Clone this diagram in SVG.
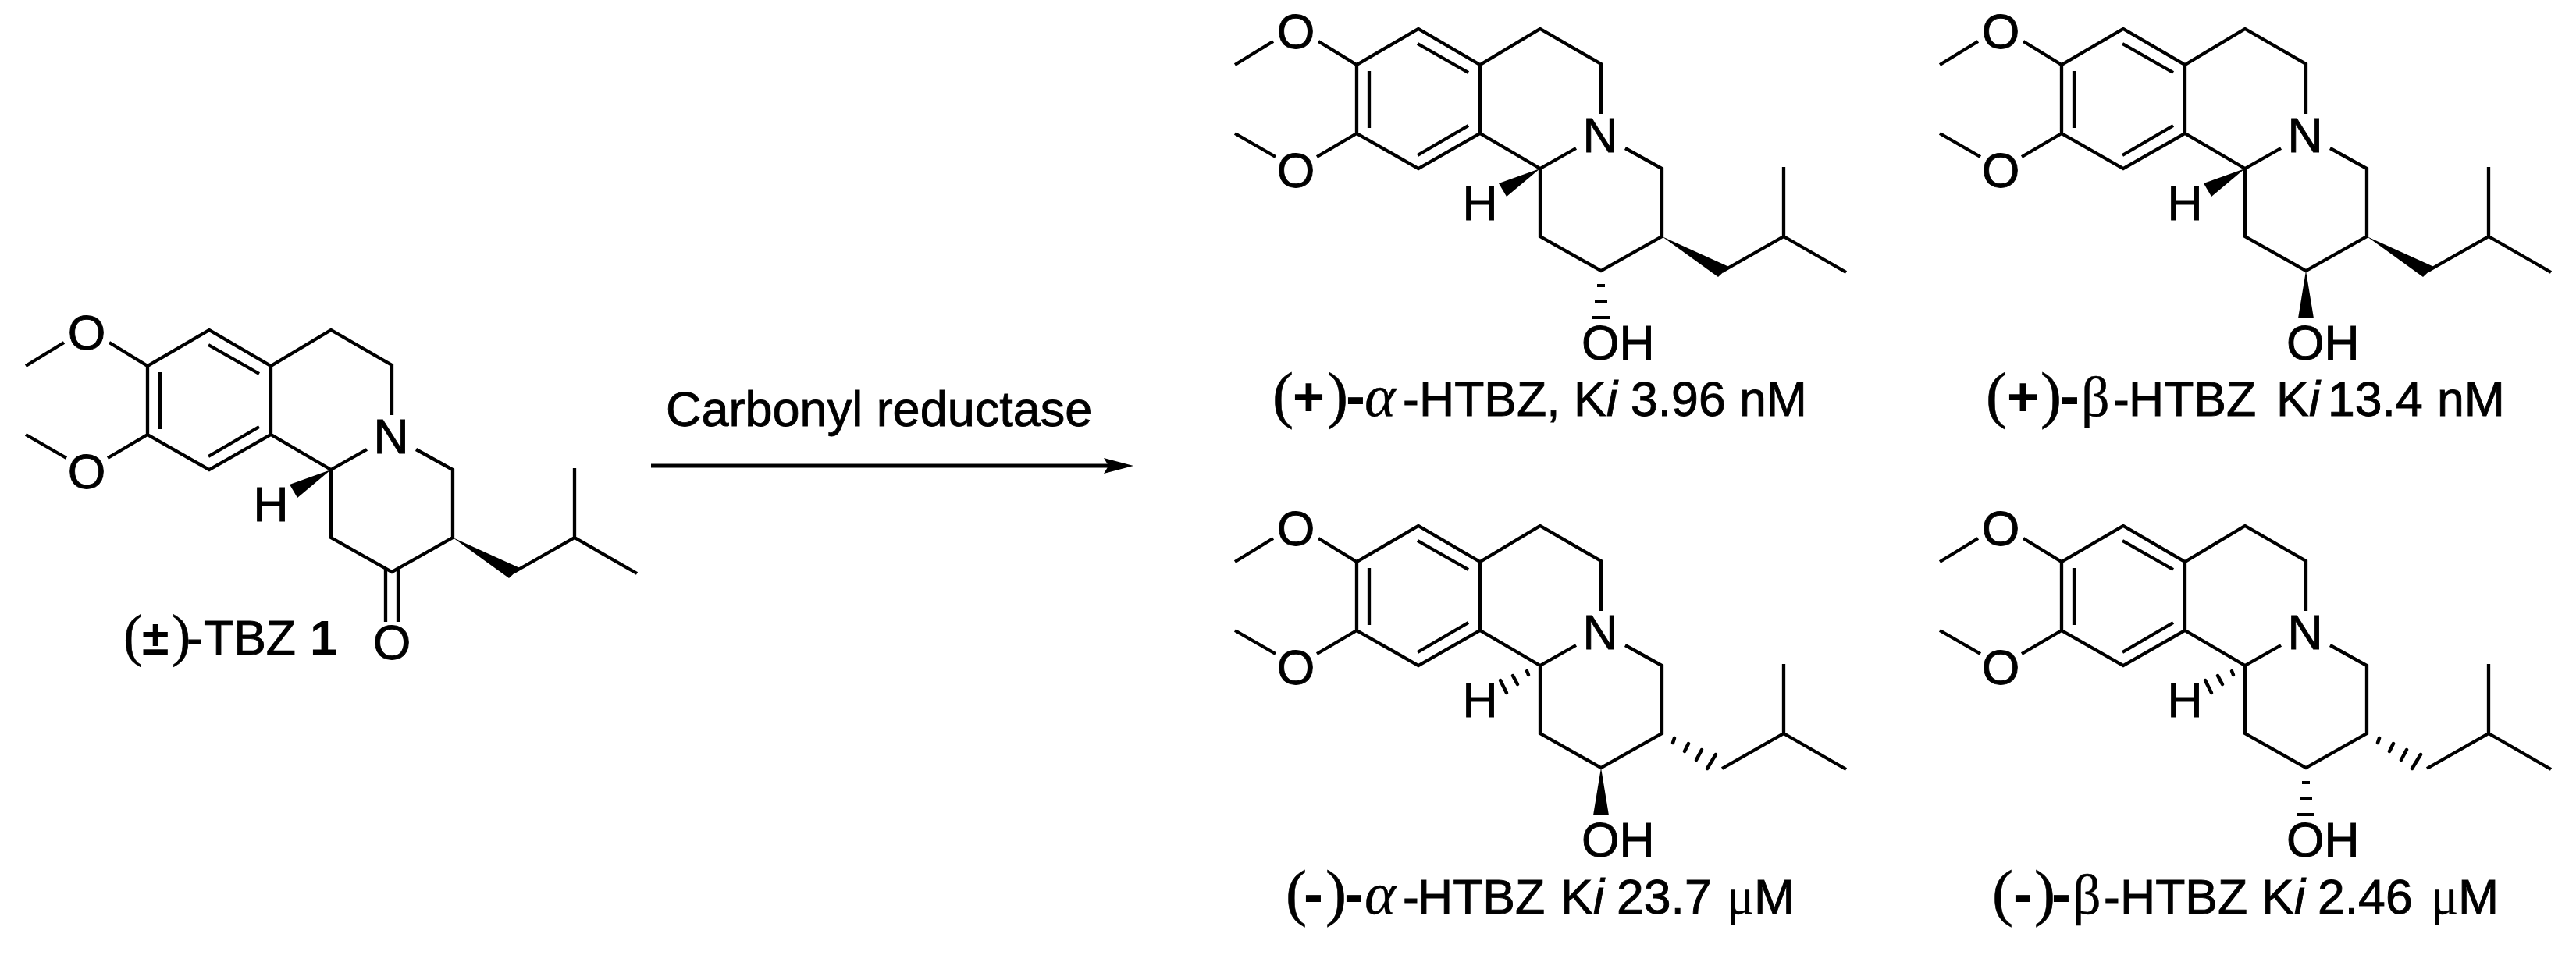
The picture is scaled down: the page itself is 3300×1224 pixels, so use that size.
<svg xmlns="http://www.w3.org/2000/svg" width="3300" height="1224" viewBox="0 0 3300 1224">
<style>
.bond{fill:none;stroke:#000;stroke-width:4.3;stroke-linejoin:miter;stroke-linecap:butt}
.arrow{fill:none;stroke:#000;stroke-width:5}
.hash{fill:none;stroke:#000;stroke-width:4.5;stroke-linecap:round}
.flat{fill:none;stroke:#000;stroke-width:4}
text{font-family:"Liberation Sans",Arial,sans-serif;font-size:62.5px;fill:#000;stroke:#000;stroke-width:.9}
.a{text-anchor:middle}
.p{font-family:"Liberation Serif","Times New Roman",serif;font-size:81px;stroke-width:.6}
.p2{font-family:"Liberation Serif","Times New Roman",serif;font-size:73px;stroke-width:.6}
.b{font-weight:bold;stroke-width:0}
.plus{font-weight:bold;font-size:70px;stroke-width:0}
.d{font-weight:bold;font-size:75px;stroke-width:0}
.s{font-family:"Liberation Serif","Times New Roman",serif;font-size:72px;stroke-width:.4}
.sa{font-style:italic;font-size:76px}
.m{font-family:"Liberation Serif","Times New Roman",serif;font-size:66px;stroke-width:.4}
.i{font-style:italic}
</style>
<defs>
<path id="scaffold" class="bond" d="M33 469L82 439M140 439L189 469L268 423L347 469L424 423L502 468L502 532M347 469L347 557M189 469L189 557L268 602L347 557L424 602M138 587L189 557M33 557L85 587M424 602L470 576M533 576L580 602L580 689L502 733L424 689L424 602M657 734L736 689L736 600M736 689L816 735M205 477L205 550M267 442L332 479M267 585L332 547"/>
<polygon id="wedgeH" points="424,602 371,621 381,638"/>
<polygon id="wedgeC" points="580,689 666,728 652,741"/>
<polygon id="wedgeO" points="502,733 492,794 512,794"/>
<path id="hashH" class="hash" d="M407 609L409 614M389 615L395 626M373 621L381 637"/>
<path id="hashC" class="hash" d="M596 695L594 701M614 702L609 712M631 710L624 723M649 716L638 734"/>
<path id="hashO" class="flat" d="M497 752H507M494 772H510M491 793H513"/>
<marker id="head" markerUnits="userSpaceOnUse" markerWidth="40" markerHeight="24" refX="6" refY="12" orient="auto"><path d="M0 2L38 12L0 22L6 12Z"/></marker>
</defs>
<rect width="3300" height="1224" fill="#fff"/>

<g id="connectors">
<path class="arrow" d="M834 597H1420" marker-end="url(#head)"/>
</g>
<text id="reagent" x="853" y="546" style="font-size:63px">Carbonyl reductase</text>

<g id="tbz">
<use href="#scaffold"/><use href="#wedgeH"/><use href="#wedgeC"/>
<path class="bond" d="M494 731V797M510 731V797"/>
<text class="a" x="111" y="448">O</text><text class="a" x="111" y="626">O</text>
<text class="a" x="501" y="581">N</text><text class="a" x="347" y="668">H</text>
<text class="a" x="502" y="845">O</text>
<text y="839"><tspan class="p2" x="158">(</tspan><tspan class="b" x="182">±</tspan><tspan class="p2" x="220">)</tspan><tspan x="239">-</tspan><tspan x="261">TBZ </tspan><tspan class="b" x="397">1</tspan></text>
</g>

<g id="plus-alpha" transform="translate(1549 -386)">
<use href="#scaffold"/><use href="#wedgeH"/><use href="#wedgeC"/><use href="#hashO"/>
<text class="a" x="111" y="448">O</text><text class="a" x="111" y="626">O</text>
<text class="a" x="501" y="581">N</text><text class="a" x="347" y="668">H</text>
<text x="477" y="847">OH</text>
</g>
<text id="cap-plus-alpha" y="533"><tspan class="p" x="1630">(</tspan><tspan class="plus" x="1656">+</tspan><tspan class="p" x="1700">)</tspan><tspan class="d" x="1724">-</tspan><tspan class="s sa" x="1748">α</tspan><tspan x="1797">-</tspan><tspan x="1818">HTBZ, </tspan><tspan x="2016">K</tspan><tspan class="i" x="2058">i </tspan><tspan x="2089">3.96 </tspan><tspan x="2228">nM</tspan></text>

<g id="plus-beta" transform="translate(2452 -386)">
<use href="#scaffold"/><use href="#wedgeH"/><use href="#wedgeC"/><use href="#wedgeO"/>
<text class="a" x="111" y="448">O</text><text class="a" x="111" y="626">O</text>
<text class="a" x="501" y="581">N</text><text class="a" x="347" y="668">H</text>
<text x="477" y="847">OH</text>
</g>
<text id="cap-plus-beta" y="533"><tspan class="p" x="2544">(</tspan><tspan class="plus" x="2571">+</tspan><tspan class="p" x="2614">)</tspan><tspan class="d" x="2639">-</tspan><tspan class="s" x="2666">β</tspan><tspan x="2707">-</tspan><tspan x="2727">HTBZ </tspan><tspan x="2916">K</tspan><tspan class="i" x="2958">i </tspan><tspan x="2982">13.4 </tspan><tspan x="3122">nM</tspan></text>

<g id="minus-alpha" transform="translate(1549 251)">
<use href="#scaffold"/><use href="#hashH"/><use href="#hashC"/><use href="#wedgeO"/>
<text class="a" x="111" y="448">O</text><text class="a" x="111" y="626">O</text>
<text class="a" x="501" y="581">N</text><text class="a" x="347" y="668">H</text>
<text x="477" y="847">OH</text>
</g>
<text id="cap-minus-alpha" y="1171"><tspan class="p" x="1647">(</tspan><tspan class="d" x="1670">-</tspan><tspan class="p" x="1698">)</tspan><tspan class="d" x="1722">-</tspan><tspan class="s sa" x="1748">α</tspan><tspan x="1797">-</tspan><tspan x="1816">HTBZ </tspan><tspan x="1999">K</tspan><tspan class="i" x="2041">i </tspan><tspan x="2071">23.7 </tspan><tspan class="m" x="2212">μ</tspan><tspan x="2247">M</tspan></text>

<g id="minus-beta" transform="translate(2452 251)">
<use href="#scaffold"/><use href="#hashH"/><use href="#hashC"/><use href="#hashO"/>
<text class="a" x="111" y="448">O</text><text class="a" x="111" y="626">O</text>
<text class="a" x="501" y="581">N</text><text class="a" x="347" y="668">H</text>
<text x="477" y="847">OH</text>
</g>
<text id="cap-minus-beta" y="1171"><tspan class="p" x="2552">(</tspan><tspan class="d" x="2579">-</tspan><tspan class="p" x="2606">)</tspan><tspan class="d" x="2628">-</tspan><tspan class="s" x="2655">β</tspan><tspan x="2695">-</tspan><tspan x="2716">HTBZ </tspan><tspan x="2897">K</tspan><tspan class="i" x="2939">i </tspan><tspan x="2969">2.46 </tspan><tspan class="m" x="3114">μ</tspan><tspan x="3149">M</tspan></text>
</svg>
